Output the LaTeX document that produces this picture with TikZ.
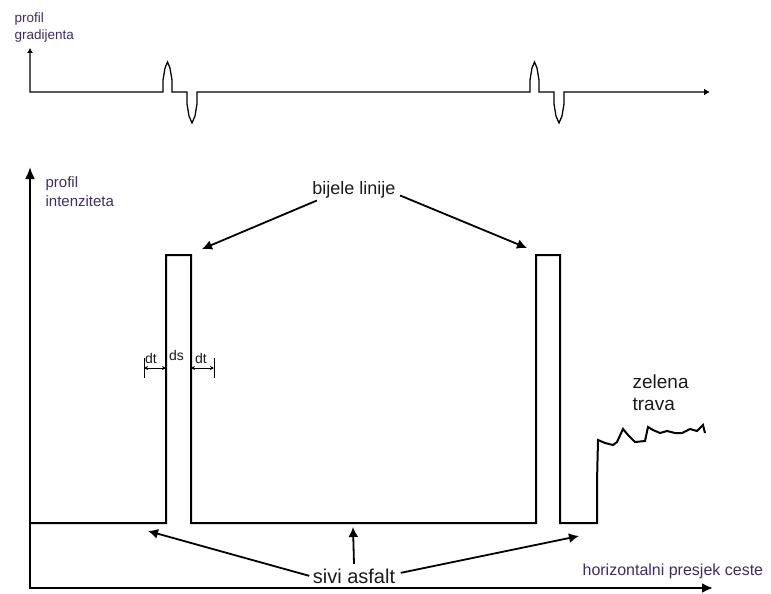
\documentclass[tikz,border=0pt]{standalone}
\usepackage{fontspec}
\setsansfont{Liberation Sans}
\usetikzlibrary{arrows.meta, positioning}
\definecolor{cink}{HTML}{3F2C66}
\definecolor{ctext}{HTML}{1A1A1A}
\tikzset{
  every picture/.style={font=\sffamily, line width=1.2pt},
  axisline/.style={{Latex[length=12pt, width=10pt]}-{Latex[length=11pt, width=10pt]}, draw=black, line width=2.2pt},
  gradline/.style={{Latex[length=5pt, width=6pt]}-{Latex[length=6pt, width=7pt]}, draw=black, line width=1.3pt},
  profile/.style={draw=black, line width=2pt},
  pointer/.style={-{Latex[length=10pt, width=10pt]}, draw=black, line width=1.8pt},
  dimline/.style={{Stealth[length=4pt, width=4pt]}-{Stealth[length=4pt, width=4pt]}, draw=black, line width=0.8pt},
  lbl/.style 2 args={inner sep=0pt, align=left, text=ctext, font=\sffamily\fontsize{#1}{#2}\selectfont},
}

\begin{document}
\begin{tikzpicture}[x=1pt, y=-1pt]
  \useasboundingbox (0,0) rectangle (771,594);
  \newcommand{\gradpulse}[1]{% peak up, then dip down
    -- (#1,92) -- ++(0,-12) -- ++(2,-12) -- ++(2.5,-6) -- ++(2.5,6) -- ++(2,12) -- ++(0,12)
    -- ++(15,0) -- ++(0,12) -- ++(2,12) -- ++(3,7) -- ++(3,-7) -- ++(2,-12) -- ++(0,-12)}

  % gradient profile
  \draw[gradline] (30,48) -- (30,92) \gradpulse{163} \gradpulse{530} -- (710,92);
  \node[lbl={13.5}{17}, text=cink, anchor=north west] (gradlbl) at (14,12) {profil\\gradijenta};

  % intensity profile
  \draw[axisline] (30,167) -- (30,588) -- (713,588);
  \node[lbl={15}{19}, text=cink, anchor=north west] (intlbl) at (45,176) {profil\\intenziteta};
  \node[lbl={16}{16}, text=cink, anchor=base west] (crosslbl) at (582,575) {horizontalni presjek ceste};

  \draw[profile] (30,523) -- (166,523) -- (166,255) -- (191,255) -- (191,523) -- (536,523)
    -- (536,255) -- (560,255) -- (560,523) -- (597,523) -- (597,482) -- (598,440)
    -- (605,443) -- (613,445) -- (617,442) -- (623,429) -- (628,435) -- (635,442)
    -- (645,441) -- (648,427) -- (653,430) -- (660,433) -- (667,431) -- (675,433)
    -- (682,433) -- (690,429) -- (697,431) -- (703,425) -- (705,433);

  % dt / ds marks
  \coordinate (d1) at (144,368); \coordinate (d2) at (166,368);
  \coordinate (d3) at (191,368); \coordinate (d4) at (214,368);
  \draw[dimline] (d1) -- (d2);
  \draw[dimline] (d3) -- (d4);
  \draw[line width=0.8pt] ([yshift=10pt]d1) -- ([yshift=-10pt]d1);
  \draw[line width=0.8pt] ([yshift=10pt]d4) -- ([yshift=-10pt]d4);
  \node[lbl={14}{14}, anchor=base] (dtleft) at (151,363) {dt};
  \node[lbl={14}{14}, anchor=base] (dsmid) at (176.5,360) {ds};
  \node[lbl={14}{14}, anchor=base] (dtright) at (201,363) {dt};

  % labels with pointers
  \node[lbl={18}{18}] (whitelbl) at (354,189.5) {bijele linije};
  \coordinate (w1) at (202,249); \coordinate (w2) at (527,248);
  \draw[pointer] ([xshift=5pt, yshift=-2pt]whitelbl.south west) -- (w1);
  \draw[pointer] ([xshift=4pt, yshift=-6pt]whitelbl.east) -- (w2);

  \node[lbl={20}{20}, anchor=base] (asphaltlbl) at (354,583) {sivi asfalt};
  \coordinate (a1) at (148,531); \coordinate (a2) at (353,527); \coordinate (a3) at (579,536);
  \draw[pointer] ([xshift=-3pt]asphaltlbl.west) -- (a1);
  \draw[pointer] ([yshift=4pt]asphaltlbl.north) -- (a2);
  \draw[pointer] ([xshift=5pt, yshift=3pt]asphaltlbl.east) -- (a3);

  \node[lbl={19}{22.5}, anchor=north west] (grasslbl) at (632,374) {zelena\\trava};
\end{tikzpicture}
\end{document}
